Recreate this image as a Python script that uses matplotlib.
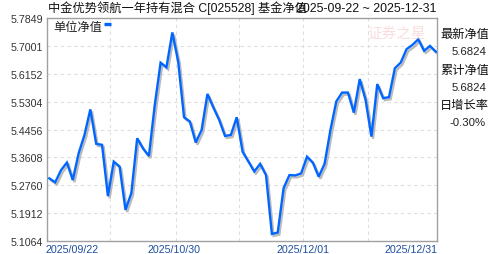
import matplotlib
matplotlib.use("Agg")
import matplotlib.pyplot as plt
import matplotlib.patheffects as pe

plt.rcParams["font.family"] = ["Liberation Sans", "Noto Sans CJK SC"]

# unit NAV, one value per trading day 2025-09-22 .. 2025-12-31
nav = [5.297, 5.285, 5.322, 5.345, 5.292, 5.373, 5.429, 5.507, 5.402, 5.399,
       5.243, 5.348, 5.333, 5.201, 5.252, 5.419, 5.388, 5.365, 5.520, 5.649,
       5.635, 5.741, 5.652, 5.483, 5.470, 5.406, 5.444, 5.554, 5.513, 5.475,
       5.426, 5.429, 5.483, 5.378, 5.348, 5.318, 5.341, 5.307, 5.128, 5.132,
       5.267, 5.307, 5.306, 5.312, 5.363, 5.345, 5.302, 5.341, 5.444, 5.531,
       5.558, 5.558, 5.497, 5.599, 5.536, 5.424, 5.584, 5.541, 5.544, 5.632,
       5.649, 5.690, 5.703, 5.720, 5.685, 5.700, 5.6824]
y_ticks = [5.1064, 5.1912, 5.2760, 5.3608, 5.4456, 5.5304, 5.6152, 5.7001, 5.7849]
x_tick_idx = [0, 22, 44, 66]
x_tick_labels = ["2025/09/22", "2025/10/30", "2025/12/01", "2025/12/31"]

title = "中金优势领航一年持有混合 C[025528] 基金净值"
date_range = "2025-09-22 ~ 2025-12-31"
side_labels = ["最新净值", "累计净值", "日增长率"]
side_values = ["5.6824", "5.6824", "-0.30%"]

W, H = 488, 255
fig = plt.figure(figsize=(W / 100, H / 100), dpi=100)
ax = fig.add_axes([47 / W, 1 - 242 / H, 390 / W, 223 / H])

x = list(range(len(nav)))
ax.plot(x, nav, color="#0066ff", linewidth=1.7, solid_joinstyle="miter",
        path_effects=[pe.SimpleLineShadow(offset=(1.2, -1.5), shadow_color="#aaaaaa", alpha=0.8),
                      pe.Normal()], zorder=3)

ax.set_xlim(-0.4, 66.2)
ax.set_ylim(y_ticks[0], y_ticks[-1])
ax.set_yticks(y_ticks)
ax.set_yticklabels(["%.4f" % v for v in y_ticks], fontsize=7.7, color="#333333")
ax.tick_params(axis="y", length=0, pad=3)
ax.set_xticks([])

for v in y_ticks[1:-1]:
    ax.axhline(v, color="#dedede", linewidth=0.8, linestyle=(0, (3, 3)), zorder=1)
for f in [0.162, 0.330, 0.493, 0.657, 0.824]:
    ax.axvline(-0.4 + f * 66.6, color="#dedede", linewidth=0.8, linestyle=(0, (3, 3)), zorder=1)

for s in ax.spines.values():
    s.set_color("#a0a0a0")
    s.set_linewidth(1.0)

offsets = [(-3.1, "left"), (-3.2, "center"), (-3.2, "center"), (0.9, "right")]
for i, lab, (dx, ha) in zip(x_tick_idx, x_tick_labels, offsets):
    ax.annotate(lab, xy=(i, 0), xycoords=("data", "axes fraction"),
                xytext=(dx, -6), textcoords="offset points",
                ha=ha, va="center", fontsize=7.7, color="#1f4f9f")

fig.text(48 / W, 1 - 8.5 / H, title, fontsize=8.8, color="#111111", va="center", ha="left")
fig.text(436 / W, 1 - 8.5 / H, date_range, fontsize=8.9, color="#111111", va="center", ha="right")

fig.text(53 / W, 1 - 28 / H, "单位净值", fontsize=8.8, color="#222222", va="center", ha="left")
fig.lines.append(plt.Line2D([104 / W, 111 / W], [1 - 25 / H, 1 - 25 / H], transform=fig.transFigure,
                            color="#0066ff", linewidth=2.4, solid_capstyle="butt"))

fig.text(397 / W, 1 - 34 / H, "证券之星", fontsize=10.5, color="#f4b4b4", alpha=0.45,
         va="center", ha="center", fontstyle="italic")

for k, (lab, val) in enumerate(zip(side_labels, side_values)):
    y0 = 35 + k * 35.5
    fig.text(440 / W, 1 - y0 / H, lab, fontsize=8.8, color="#111111", va="center", ha="left")
    fig.text(486 / W, 1 - (y0 + 17.5) / H, val, fontsize=8.2, color="#222222", va="center", ha="right")

fig.savefig("out.png", dpi=100)
